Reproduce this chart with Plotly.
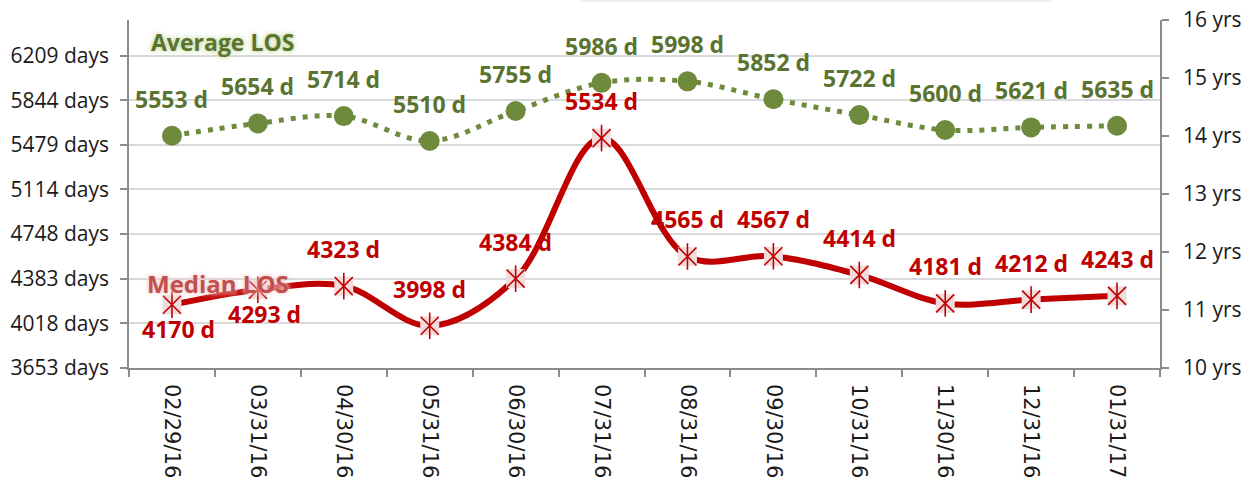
import plotly.graph_objects as go

categories = ["02/29/16", "03/31/16", "04/30/16", "05/31/16", "06/30/16", "07/31/16",
              "08/31/16", "09/30/16", "10/31/16", "11/30/16", "12/31/16", "01/31/17"]
average_los = [5553, 5654, 5714, 5510, 5755, 5986, 5998, 5852, 5722, 5600, 5621, 5635]
median_los = [4170, 4293, 4323, 3998, 4384, 5534, 4565, 4567, 4414, 4181, 4212, 4243]
median_label_pos = ["below", "below", "above", "above", "above", "above",
                    "above", "above", "above", "above", "above", "above"]
left_tick_vals = [3652.5 + 365.25 * k for k in range(8)]
left_tick_text = ["3653 days", "4018 days", "4383 days", "4748 days",
                  "5114 days", "5479 days", "5844 days", "6209 days"]
right_tick_vals = [10, 11, 12, 13, 14, 15, 16]
right_tick_text = ["10 yrs", "11 yrs", "12 yrs", "13 yrs", "14 yrs", "15 yrs", "16 yrs"]

GREEN = "#6E8B3D"
GREEN_TXT = "#5A7430"
RED = "#C00000"
PINK = "#F2DCDB"
AXIS = "#8C8C8C"
FONT = "Open Sans"

fig = go.Figure()

# Average LOS
fig.add_trace(go.Scatter(x=categories, y=average_los, mode="lines",
                         line=dict(color=GREEN, width=5, dash="5px,7px", shape="spline", smoothing=1.0),
                         hoverinfo="skip", showlegend=False))
fig.add_trace(go.Scatter(x=categories, y=average_los, mode="markers",
                         marker=dict(symbol="circle", size=20, color=GREEN, line=dict(width=0)),
                         showlegend=False))

# Median LOS
fig.add_trace(go.Scatter(x=categories, y=median_los, mode="lines",
                         line=dict(color=RED, width=6, shape="spline", smoothing=1.0),
                         hoverinfo="skip", showlegend=False))
fig.add_trace(go.Scatter(x=categories, y=median_los, mode="markers",
                         marker=dict(symbol="square", size=19, color=PINK, line=dict(width=0)),
                         showlegend=False))
fig.add_trace(go.Scatter(x=categories, y=median_los, mode="markers",
                         marker=dict(symbol="x-thin-open", size=18, color=RED, line=dict(width=1.6, color=RED)),
                         hoverinfo="skip", showlegend=False))
fig.add_trace(go.Scatter(x=categories, y=median_los, mode="markers",
                         marker=dict(symbol="line-ns-open", size=19, color=RED, line=dict(width=1.6, color=RED)),
                         hoverinfo="skip", showlegend=False))

# invisible trace so the right-hand (years) axis is drawn
fig.add_trace(go.Scatter(x=[categories[0]], y=[right_tick_vals[0]], yaxis="y2", mode="markers",
                         marker=dict(opacity=0), hoverinfo="skip", showlegend=False))

annotations = []
for c, v in zip(categories, average_los):
    annotations.append(dict(x=c, y=v, xref="x", yref="y", text=f"<b>{v} d</b>", showarrow=False,
                            xanchor="center", yanchor="middle",
                            yshift=37, font=dict(family=FONT, size=23, color=GREEN_TXT)))
for c, v, p in zip(categories, median_los, median_label_pos):
    annotations.append(dict(x=c, y=v, xref="x", yref="y", text=f"<b>{v} d</b>", showarrow=False,
                            xanchor="center", yanchor="middle",
                            yshift=37 if p == "above" else -24, xshift=0 if p == "above" else 7,
                            font=dict(family=FONT, size=23, color=RED)))

annotations.append(dict(x=0.0905, y=0.937, xref="paper", yref="paper", text="<b>Average LOS</b>",
                        showarrow=False, xanchor="center", yanchor="middle",
                        font=dict(family=FONT, size=23, color=GREEN_TXT,
                                  shadow="0px 0px 4px #C3D69B, 0px 0px 7px #D7E4BD")))
annotations.append(dict(x=0.0863, y=0.244, xref="paper", yref="paper", text="<b>Median LOS</b>",
                        showarrow=False, xanchor="center", yanchor="middle",
                        font=dict(family=FONT, size=24, color="#C0504D",
                                  shadow="0px 0px 4px #F2C4C4, 0px 0px 7px #F7DCDC")))

fig.update_layout(
    width=1258, height=479,
    margin=dict(l=129, r=98, t=20, b=111),
    paper_bgcolor="white", plot_bgcolor="white",
    font=dict(family=FONT, size=20, color="#1A1A1A"),
    showlegend=False,
    annotations=annotations,
    shapes=[dict(type="line", xref="paper", yref="paper", x0=0.4375, x1=0.895, y0=1.055, y1=1.055,
                 line=dict(color="#EEEEEE", width=2))],
    xaxis=dict(type="category", categoryorder="array", categoryarray=categories,
               range=[-0.5, len(categories) - 0.5], automargin=False,
               showline=True, linecolor=AXIS, linewidth=1.5, showgrid=False, zeroline=False,
               ticks="outside", tickson="boundaries", ticklen=7, tickcolor=AXIS, tickwidth=1.5,
               tickangle=90, tickfont=dict(family="DejaVu Sans", size=21, color="#1A1A1A"),
               ticklabelstandoff=10),
    yaxis=dict(range=[3652.5, 6500], tickmode="array", tickvals=left_tick_vals, ticktext=left_tick_text,
               automargin=False,
               showline=True, linecolor=AXIS, linewidth=1.5, showgrid=True, gridcolor="#D9D9D9", gridwidth=1.5,
               zeroline=False, ticks="outside", ticklen=7, tickcolor=AXIS, tickwidth=1.5,
               tickfont=dict(family=FONT, size=21, color="#1A1A1A"), ticklabelstandoff=7),
    yaxis2=dict(range=[10, 16], overlaying="y", side="right", tickmode="array",
                tickvals=right_tick_vals, ticktext=right_tick_text, automargin=False,
                ticklabeloverflow="allow",
                showline=True, linecolor=AXIS, linewidth=1.5, showgrid=False, zeroline=False,
                ticks="outside", ticklen=7, tickcolor=AXIS, tickwidth=1.5,
                tickfont=dict(family=FONT, size=21, color="#1A1A1A"), ticklabelstandoff=10),
)

# remove the browser's default 8px body margin so the figure fills the window exactly
fig.write_html("out.html", config={"displayModeBar": False},
               post_script="document.body.style.margin='0px';")
